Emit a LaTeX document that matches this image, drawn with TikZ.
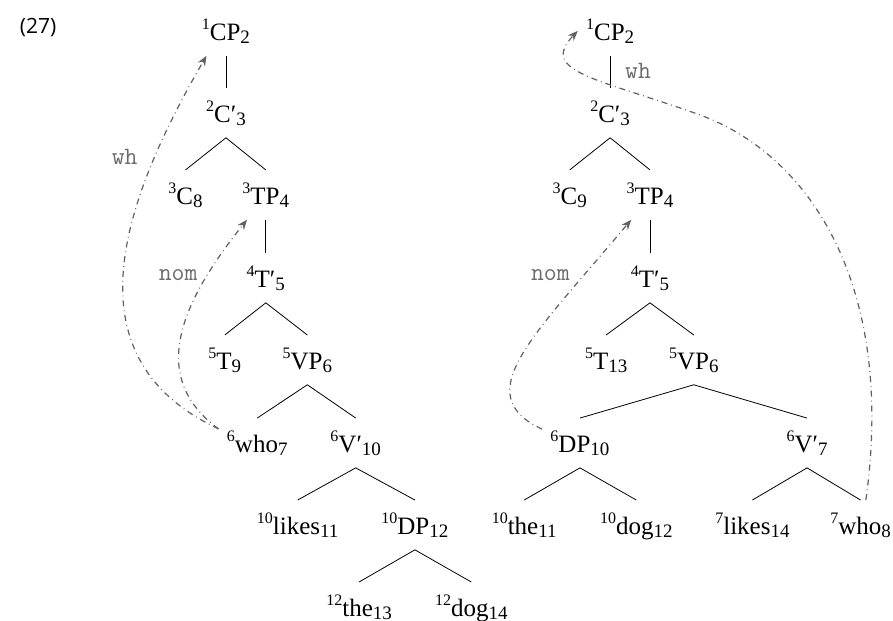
\documentclass[tikz,border=0pt]{standalone}
\usepackage{fontspec}
\setmainfont{Liberation Serif}
\newfontfamily\exfont{Open Sans}
\usetikzlibrary{arrows.meta}
\definecolor{mvgray}{gray}{0.38}
\definecolor{featgray}{gray}{0.42}
\newcommand{\syn}[3]{\raisebox{5.5pt}{\fontsize{8}{9}\selectfont #1}#2\raisebox{-1.5pt}{\fontsize{9.5}{11}\selectfont #3}}

\begin{document}
\begin{tikzpicture}[
    cat/.style={anchor=base, inner xsep=4pt, inner ysep=5pt, text height=12pt, text depth=2.5pt, font=\fontsize{12.5}{14}\selectfont},
    mv/.style={mvgray, dash dot, line width=0.6pt, -{Stealth[length=5pt, width=4pt]}},
    feat/.style={text=featgray, font=\ttfamily\fontsize{12.5}{14}\selectfont}
]
    \useasboundingbox (0,0) rectangle (15.69,10.90);
    \node[font=\exfont\fontsize{10.5}{12}\selectfont] (exnum) at (0.67, 10.42) {(27)};

    % Left tree: who stays in Spec,VP
    \begin{scope}
        \node[cat] (cpL) at (3.97, 10.19) {\syn{1}{CP}{2}};
        \node[cat] (cbarL) at (3.97, 8.75) {\syn{2}{C′}{3}};
        \node[cat] (cL) at (3.26, 7.31) {\syn{3}{C}{8}};
        \node[cat] (tpL) at (4.67, 7.31) {\syn{3}{TP}{4}};
        \node[cat] (tbarL) at (4.67, 5.85) {\syn{4}{T′}{5}};
        \node[cat] (tL) at (3.95, 4.41) {\syn{5}{T}{9}};
        \node[cat] (vpL) at (5.40, 4.41) {\syn{5}{VP}{6}};
        \node[cat] (whoL) at (4.52, 2.95) {\syn{6}{who}{7}};
        \node[cat] (vbarL) at (6.25, 2.95) {\syn{6}{V′}{10}};
        \node[cat] (likesL) at (5.23, 1.51) {\syn{10}{likes}{11}};
        \node[cat] (dpL) at (7.29, 1.51) {\syn{10}{DP}{12}};
        \node[cat] (theL) at (6.31, 0.07) {\syn{12}{the}{13}};
        \node[cat] (dogL) at (8.28, 0.07) {\syn{12}{dog}{14}};
        \draw (cpL.south) -- (cbarL.north);
        \draw (cL.north) -- (cbarL.south) -- (tpL.north);
        \draw (tpL.south) -- (tbarL.north);
        \draw (tL.north) -- (tbarL.south) -- (vpL.north);
        \draw (whoL.north) -- (vpL.south) -- (vbarL.north);
        \draw (likesL.north) -- (vbarL.south) -- (dpL.north);
        \draw (theL.north) -- (dpL.south) -- (dogL.north);
    \end{scope}

    % Right tree: who as complement of V
    \begin{scope}[xshift=6.75cm]
        \node[cat] (cpR) at (3.97, 10.19) {\syn{1}{CP}{2}};
        \node[cat] (cbarR) at (3.97, 8.75) {\syn{2}{C′}{3}};
        \node[cat] (cR) at (3.26, 7.31) {\syn{3}{C}{9}};
        \node[cat] (tpR) at (4.67, 7.31) {\syn{3}{TP}{4}};
        \node[cat] (tbarR) at (4.67, 5.85) {\syn{4}{T′}{5}};
        \node[cat] (tR) at (3.90, 4.41) {\syn{5}{T}{13}};
        \node[cat] (vpR) at (5.44, 4.41) {\syn{5}{VP}{6}};
        \node[cat] (dpR) at (3.44, 2.95) {\syn{6}{DP}{10}};
        \node[cat] (vbarR) at (7.43, 2.95) {\syn{6}{V′}{7}};
        \node[cat] (theR) at (2.46, 1.51) {\syn{10}{the}{11}};
        \node[cat] (dogR) at (4.43, 1.51) {\syn{10}{dog}{12}};
        \node[cat] (likesR) at (6.47, 1.51) {\syn{7}{likes}{14}};
        \node[cat] (whoR) at (8.37, 1.51) {\syn{7}{who}{8}};
        \draw (cpR.south) -- (cbarR.north);
        \draw (cR.north) -- (cbarR.south) -- (tpR.north);
        \draw (tpR.south) -- (tbarR.north);
        \draw (tR.north) -- (tbarR.south) -- (vpR.north);
        \draw (dpR.north) -- (vpR.south) -- (vbarR.north);
        \draw (theR.north) -- (dpR.south) -- (dogR.north);
        \draw (likesR.north) -- (vbarR.south) -- (whoR.north);
    \end{scope}

    % Movement paths
    \draw[mv] (whoL.160) .. controls (1.27, 4.57) and (2.02, 7.15) .. (cpL.-128);
    \draw[mv] (whoL.160) .. controls (2.65, 4.24) and (3.09, 5.48) .. (tpL.-127);
    \draw[mv] (dpR.160) .. controls (8.22, 3.97) and (9.35, 4.97) .. (tpR.-127);
    \draw[mv] (whoR.78) .. controls (15.73, 5.80) and (14.29, 8.15) .. (12.30, 8.88)
        .. controls (10.49, 9.53) and (9.46, 9.63) .. (cpR.west);
    \node[feat] (whL) at (2.19, 8.15) {wh};
    \node[feat] (nomL) at (3.13, 6.06) {nom};
    \node[feat] (nomR) at (9.67, 6.06) {nom};
    \node[feat] (whR) at (11.21, 9.65) {wh};
\end{tikzpicture}
\end{document}
